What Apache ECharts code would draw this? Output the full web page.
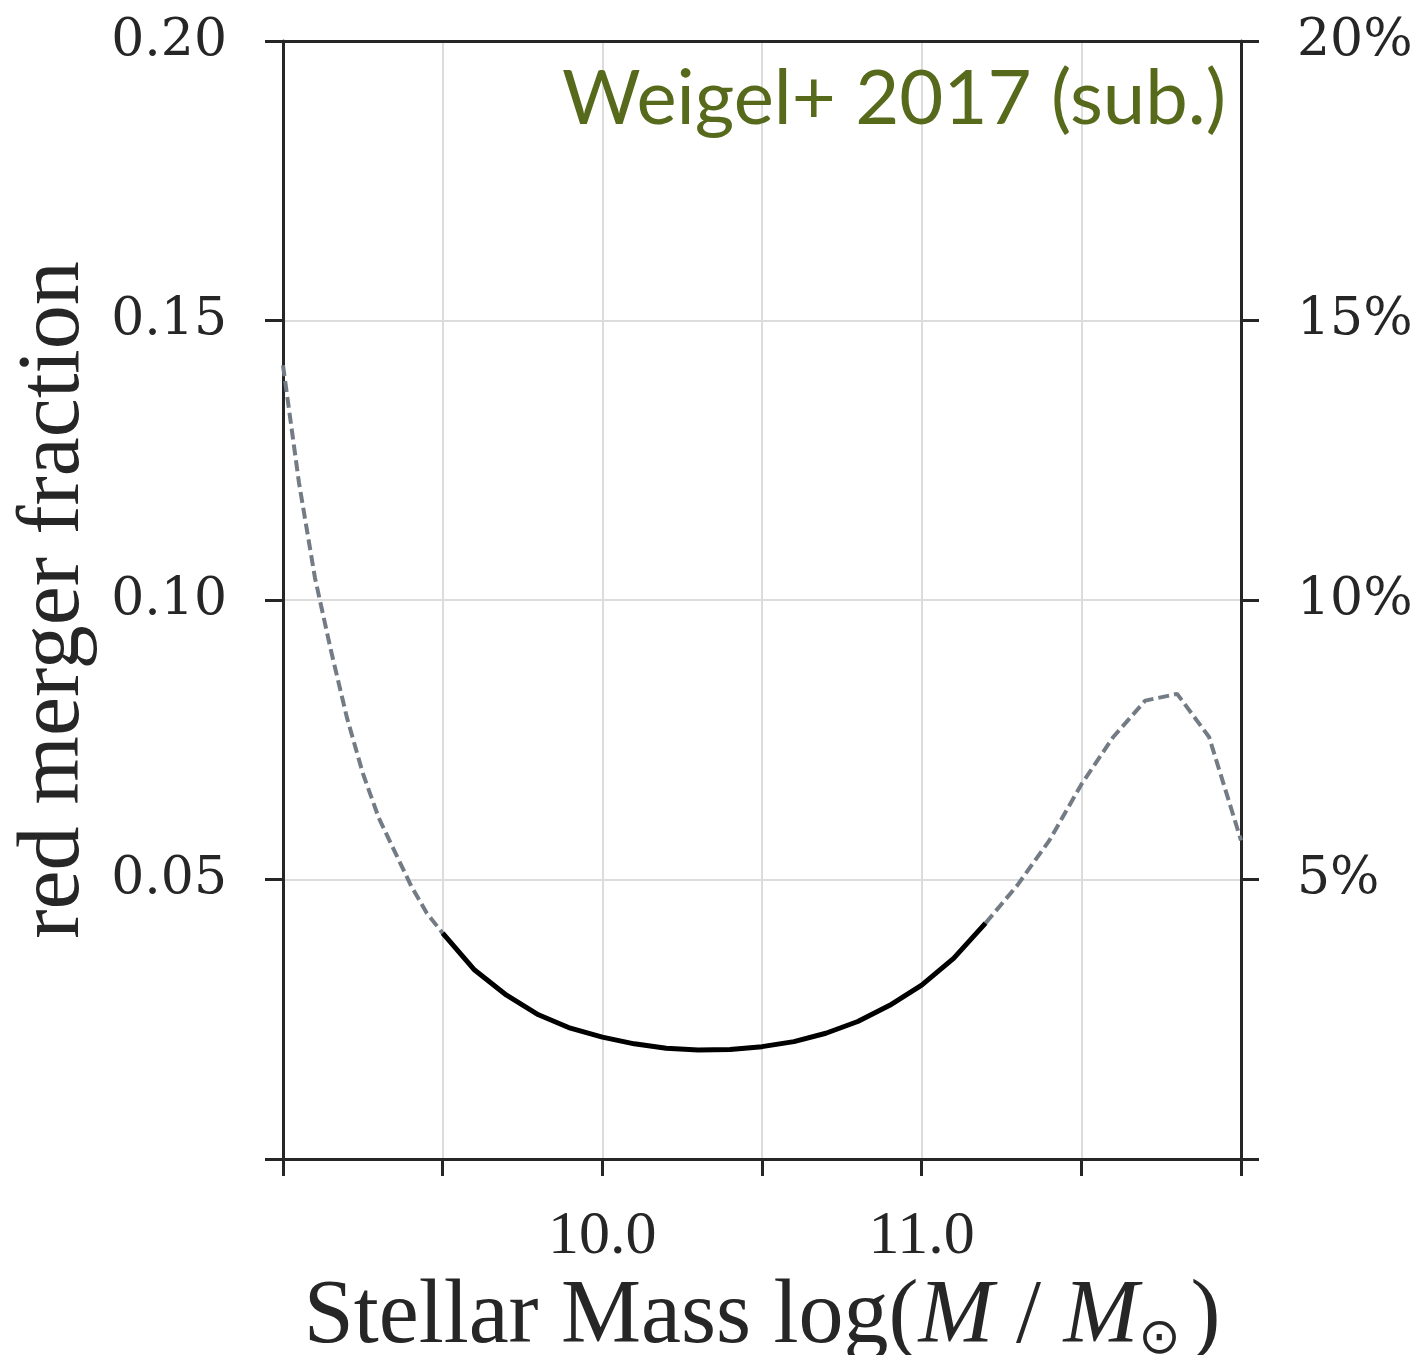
<!DOCTYPE html>
<html>
<head>
<meta charset="utf-8">
<script src="https://cdn.jsdelivr.net/npm/echarts@6/dist/echarts.min.js"></script>
<style>
html,body{margin:0;padding:0;background:#fff;}
#chart{width:1425px;height:1355px;}
</style>
</head>
<body>
<div id="chart"></div>
<script>
// ---- data ----
const solidMass = [9.5,9.6,9.7,9.8,9.9,10.0,10.1,10.2,10.3,10.4,10.5,10.6,10.7,10.8,10.9,11.0,11.1,11.2];
const solidFrac = [0.0404,0.0338,0.0293,0.0258,0.0234,0.0218,0.0206,0.0198,0.0195,0.0196,0.0201,0.0210,0.0225,0.0246,0.0275,0.0311,0.0359,0.0422];
const dashLowMass = [9.0,9.05,9.1,9.15,9.2,9.25,9.3,9.35,9.4,9.45,9.5];
const dashLowFrac = [0.142,0.121,0.104,0.091,0.079,0.069,0.061,0.055,0.049,0.044,0.0404];
const dashHighMass = [11.2,11.3,11.4,11.5,11.6,11.7,11.8,11.9,12.0];
const dashHighFrac = [0.0422,0.049,0.057,0.067,0.0755,0.082,0.0832,0.0755,0.057];
const xTickValues = [10.0, 11.0];
const xTickLabels = ['10.0','11.0'];
const yTickValues = [0.05, 0.10, 0.15, 0.20];
const yLeftLabels = ['0.05','0.10','0.15','0.20'];
const yRightLabels = ['5%','10%','15%','20%'];
const titleText = 'Weigel+ 2017 (sub.)';

const pair = (xs, ys) => xs.map((x, i) => [x, ys[i]]);
const lookup = (vals, labels, v) => {
  const i = vals.findIndex(t => Math.abs(t - v) < 1e-9);
  return i >= 0 ? labels[i] : '';
};

const axisColor = '#262626';
const gridColor = '#dcdcdc';

const chart = echarts.init(document.getElementById('chart'), null, {renderer: 'canvas'});
chart.setOption({
  animation: false,
  backgroundColor: '#ffffff',
  grid: {left: 283, right: 184, top: 41, bottom: 196, show: false, containLabel: false, outerBoundsMode: 'none'},
  title: {
    text: titleText, right: 194, top: 56,
    textStyle: {fontFamily: 'Lato', fontWeight: 'normal', fontSize: 76, color: '#576a1c'}
  },
  xAxis: [{
    type: 'value', min: 9, max: 12, interval: 0.5, position: 'bottom',
    axisLine: {show: true, lineStyle: {color: axisColor, width: 3}},
    axisTick: {show: true, inside: false, length: 17, lineStyle: {color: axisColor, width: 3}},
    axisLabel: {
      margin: 47, fontFamily: 'Liberation Serif', fontSize: 62, color: axisColor,
      formatter: v => lookup(xTickValues, xTickLabels, v)
    },
    splitLine: {show: true, lineStyle: {color: gridColor, width: 2}},
    name: '{n|Stellar Mass log(}{i|M}{n| / }{i|M}{s|⊙}{n|)}',
    nameLocation: 'middle', nameGap: 106,
    nameTextStyle: {
      rich: {
        n: {fontFamily: 'Liberation Serif', fontSize: 90, color: axisColor},
        i: {fontFamily: 'Liberation Serif', fontStyle: 'italic', fontSize: 90, color: axisColor},
        s: {fontFamily: 'DejaVu Sans', fontSize: 50, color: axisColor, padding: [44, 10, 0, 0]}
      }
    }
  }, {
    type: 'value', min: 9, max: 12, interval: 0.5, position: 'top',
    axisLine: {show: true, onZero: false, lineStyle: {color: axisColor, width: 3}},
    axisTick: {show: false}, axisLabel: {show: false}, splitLine: {show: false}
  }],
  yAxis: [{
    type: 'value', min: 0, max: 0.2, interval: 0.05, position: 'left',
    axisLine: {show: true, onZero: false, lineStyle: {color: axisColor, width: 3}},
    axisTick: {show: true, inside: false, length: 18, lineStyle: {color: axisColor, width: 3}},
    axisLabel: {
      margin: 56, fontFamily: 'DejaVu Serif', fontSize: 52, color: axisColor,
      formatter: v => lookup(yTickValues, yLeftLabels, v)
    },
    splitLine: {show: true, lineStyle: {color: gridColor, width: 2}},
    name: 'red merger fraction', nameLocation: 'middle', nameGap: 184, nameRotate: 90,
    nameTextStyle: {fontFamily: 'Liberation Serif', fontSize: 88, color: axisColor}
  }, {
    type: 'value', min: 0, max: 0.2, interval: 0.05, position: 'right',
    axisLine: {show: true, onZero: false, lineStyle: {color: axisColor, width: 3}},
    axisTick: {show: true, inside: false, length: 18, lineStyle: {color: axisColor, width: 3}},
    axisLabel: {
      margin: 56, fontFamily: 'DejaVu Serif', fontSize: 52, color: axisColor,
      formatter: v => lookup(yTickValues, yRightLabels, v)
    },
    splitLine: {show: false}
  }],
  series: [
    {type: 'line', data: pair(dashLowMass, dashLowFrac), showSymbol: false, symbol: 'none',
     lineStyle: {color: '#737b85', width: 4, type: [11, 5]}, z: 2},
    {type: 'line', data: pair(dashHighMass, dashHighFrac), showSymbol: false, symbol: 'none',
     lineStyle: {color: '#737b85', width: 4, type: [11, 5]}, z: 2},
    {type: 'line', data: pair(solidMass, solidFrac), showSymbol: false, symbol: 'none',
     lineStyle: {color: '#000000', width: 5}, z: 3}
  ]
});
</script>
</body>
</html>
